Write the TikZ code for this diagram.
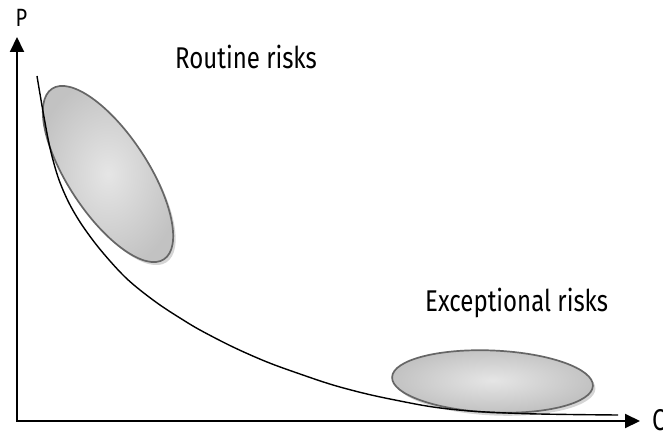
\documentclass[tikz,border=0pt]{standalone}
\usepackage{fontspec}
\setmainfont{Fira Sans}[FakeStretch=0.8]
\usetikzlibrary{shapes.geometric,shadows,arrows.meta}

\tikzset{
  axis/.style={line width=2pt, -{Triangle[length=15pt,width=14pt]}},
  riskcloud/.style={ellipse, draw=black!60, line width=1.7pt,
    inner color=gray!20, outer color=gray!48,
    drop shadow={shadow xshift=2.5pt, shadow yshift=-3pt, fill=gray!55, opacity=0.6}},
  label/.style={inner sep=0pt, font=\fontsize{30}{36}\selectfont},
  tradeoff/.style={line width=1.4pt}
}

\begin{document}
\begin{tikzpicture}[x=1pt,y=-1pt]
  \useasboundingbox (0,0) rectangle (663,433);

  % risk regions
  \node[riskcloud, minimum width=204pt, minimum height=80pt, rotate=-56.75] (routine) at (108,174) {};
  \node[riskcloud, minimum width=201pt, minimum height=62pt, rotate=-2.5] (exceptional) at (492.5,381.5) {};

  % probability / consequence trade-off curve
  \draw[tradeoff] plot[smooth, tension=0.55] coordinates {
    (37,76) (40,94) (44,117) (50,148) (58,177) (68,201) (80,222)
    (95,243) (110,261) (125,277) (140,290) (160,305) (180,318)
    (200,330) (233,347) (267,362) (300,374) (333,385) (367,394)
    (400,401) (433,407) (470,411) (520,413.5) (570,414.5) (618,415)};

  % axes
  \coordinate (origin) at (17,421);
  \coordinate (ptip) at (17,37);
  \coordinate (ctip) at (640,421);
  \draw[axis] (origin) -- (ptip);
  \draw[axis] ([xshift=-1pt]origin) -- (ctip);

  % labels
  \node[label, anchor=base west, font=\fontsize{25}{30}\selectfont] (plabel) at (15.5,27) {P};
  \node[label, anchor=base west] (clabel) at (652,430) {C};
  \node[label, anchor=base west] (routinelabel) at (175,69) {Routine risks};
  \node[label, anchor=base west] (exceptionallabel) at (425,311) {Exceptional risks};
\end{tikzpicture}
\end{document}
